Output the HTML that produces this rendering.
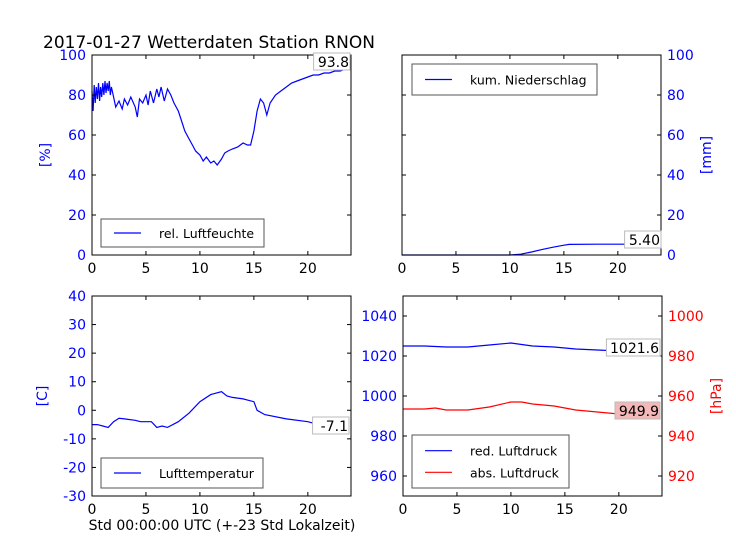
<!DOCTYPE html>
<html><head><meta charset="utf-8"><style>
body{margin:0;background:#fff}
svg{font-family:"DejaVu Sans","Liberation Sans",sans-serif}
</style></head><body>
<svg id="c" width="736" height="552" xmlns="http://www.w3.org/2000/svg">
<rect width="736" height="552" fill="#fff"/>
<text x="43" y="48" font-size="17">2017-01-27 Wetterdaten Station RNON</text>
<text x="222" y="530" font-size="14" text-anchor="middle">Std 00:00:00 UTC (+-23 Std Lokalzeit)</text>
</svg>
<script>
const humT=[0,0.1,0.2,0.3,0.4,0.5,0.6,0.7,0.8,0.9,1.0,1.1,1.2,1.3,1.4,1.5,1.6,1.7,1.8,2.0,2.2,2.5,2.8,3.0,3.3,3.6,4.0,4.2,4.4,4.7,5.0,5.2,5.4,5.7,6.0,6.2,6.4,6.7,7.0,7.3,7.6,8.0,8.3,8.6,9.0,9.3,9.6,10.0,10.3,10.6,11.0,11.3,11.6,12.0,12.3,12.6,13.0,13.5,14.0,14.4,14.7,15.0,15.3,15.6,15.9,16.2,16.5,17.0,17.5,18.0,18.5,19.0,19.5,20.0,20.5,21.0,21.5,22.0,22.5,23.0,23.5,23.8];
const humV=[82,72,85,76,84,78,86,77,84,79,86,80,87,81,86,82,87,80,84,79,74,77,73,78,75,79,74,69,78,76,80,75,82,76,83,79,84,77,83,80,76,72,67,62,58,55,52,50,47,49,46,47,45,48,51,52,53,54,56,55,55,62,72,78,76,70,76,80,82,84,86,87,88,89,90,90,91,91,92,92,93,93.8];
const rainT=[0,10,11,12,13,14,15,15.5,18,21,23.8];
const rainV=[0,0,0.4,1.5,2.8,3.9,4.9,5.3,5.4,5.4,5.4];
const tempT=[0,0.5,1,1.5,2,2.5,3,4,4.5,5,5.5,6,6.5,7,8,9,10,11,12,12.5,13,14,14.5,15,15.3,16,18,20,22,23.8];
const tempV=[-5,-5,-5.5,-6,-4,-2.8,-3,-3.5,-4,-4,-4,-6,-5.5,-6,-4,-1,3,5.5,6.5,5,4.5,4,3.5,3,0,-1.5,-3,-4,-6,-7.1];
const pT=[0,2,4,6,8,10,12,14,16,18,20,23.8];
const redV=[1025,1025,1024.5,1024.5,1025.5,1026.5,1025,1024.5,1023.5,1023,1022.5,1021.6];
const absT=[0,2,3,4,6,8,10,11,12,14,16,18,20,23.8];
const absV=[953.5,953.5,954,953,953,954.5,957,957,956,955,953,952,951,949.9];
const xTicks=[0,5,10,15,20];
const humTicks=[0,20,40,60,80,100];
const rainTicks=[0,20,40,60,80,100];
const tempTicks=[-30,-20,-10,0,10,20,30,40];
const redTicks=[960,980,1000,1020,1040];
const absTicks=[920,940,960,980,1000];

const NS="http://www.w3.org/2000/svg";
const svg=document.getElementById('c');
function el(tag,attrs,parent){const e=document.createElementNS(NS,tag);for(const k in attrs)e.setAttribute(k,attrs[k]);(parent||svg).appendChild(e);return e;}
function axis(x0,y0,w,h,ymin,ymax){return{x0,y0,w,h,sx:t=>x0+t/24*w,sy:v=>y0+h-(v-ymin)/(ymax-ymin)*h};}
function frame(a,name){
  el('rect',{x:a.x0,y:a.y0,width:a.w,height:a.h,fill:'none',stroke:'#000','stroke-width':1,});
  xTicks.forEach(t=>{const x=a.sx(t);
    el('line',{x1:x,x2:x,y1:a.y0+a.h,y2:a.y0+a.h-4,stroke:'#000'});
    el('line',{x1:x,x2:x,y1:a.y0,y2:a.y0+4,stroke:'#000'});
    const tx=el('text',{x:x,y:a.y0+a.h+18,'font-size':14,'text-anchor':'middle'});tx.textContent=t;
    
    
  });
}
function yticks(a,ticks,sy,side,color,name,both){
  ticks.forEach(v=>{const y=sy(v);
    if(side==='left'||both){el('line',{x1:a.x0,x2:a.x0+4,y1:y,y2:y,stroke:'#000'});}
    if(side==='right'||both){el('line',{x1:a.x0+a.w,x2:a.x0+a.w-4,y1:y,y2:y,stroke:'#000'});}
    const tx=el('text',{x:side==='left'?a.x0-6:a.x0+a.w+6,y:y+5,'font-size':14,'text-anchor':side==='left'?'end':'start',fill:color});tx.textContent=v;
    
    
  });
}
function line(a,T,V,sy,color,name){
  const d=T.map((t,i)=>(i?'L':'M')+a.sx(t).toFixed(1)+','+sy(V[i]).toFixed(1)).join('');
  const p=el('path',{d:d,fill:'none',stroke:color,'stroke-width':1.2});
  
  
}
function label(x,y,txt,bg,name){
  const w=txt.length*8.6+2;
  el('rect',{x:x-w,y:y-9,width:w,height:17,fill:bg,stroke:'#bbb','stroke-width':1,});
  const t=el('text',{x:x-1,y:y+5,'font-size':14,'text-anchor':'end'});t.textContent=txt;
  
  
}
function legend(x,y,w,h,items,name){
  el('rect',{x:x,y:y,width:w,height:h,fill:'#fff',stroke:'#555','stroke-width':1,});
  items.forEach((it,i)=>{const yy=y+h/(items.length+1)*(i+1)-(items.length>1?(i?-2:2):0);
    el('line',{x1:x+13,x2:x+40,y1:yy,y2:yy,stroke:it[1],'stroke-width':1.2});
    const t=el('text',{x:x+58,y:yy+5,'font-size':12.5});t.textContent=it[0];
    
    
  });
}
function ylab(x,y,txt,color,name){
  const t=el('text',{x:x,y:y,'font-size':14,fill:color,'text-anchor':'middle',transform:`rotate(-90 ${x} ${y})`});t.textContent=txt;
  
  
}
const a1=axis(92,55,259,200,0,100);
line(a1,humT,humV,a1.sy,'#0000ff','humidity-line');
frame(a1,'humidity');yticks(a1,humTicks,a1.sy,'left','#0000ff','humidity-y',true);
legend(101,219,163,28,[['rel. Luftfeuchte','#0000ff']],'humidity-legend');
label(350,62,'93.8','#fff','humidity-last-value');
ylab(50,155,'[%]','#0000ff','humidity-y-title');

const a2=axis(402,55,259,200,0,100);
line(a2,rainT,rainV,a2.sy,'#0000ff','rain-line');
frame(a2,'rain');yticks(a2,rainTicks,a2.sy,'right','#0000ff','rain-y',true);
legend(412,64,185,31,[['kum. Niederschlag','#0000ff']],'rain-legend');
label(661,240,'5.40','#fff','rain-last-value');
ylab(711,155,'[mm]','#0000ff','rain-y-title');

const a3=axis(92,296,259,200,-30,40);
line(a3,tempT,tempV,a3.sy,'#0000ff','temperature-line');
frame(a3,'temperature');yticks(a3,tempTicks,a3.sy,'left','#0000ff','temperature-y',true);
legend(101,458,162,30,[['Lufttemperatur','#0000ff']],'temperature-legend');
label(349,426,'-7.1','#fff','temperature-last-value');
ylab(47,396,'[C]','#0000ff','temperature-y-title');

const a4=axis(403,296,259,200,950,1050);
const sAbs=v=>296+200-(v-910)/100*200;
line(a4,pT,redV,a4.sy,'#0000ff','red-pressure-line');
line(a4,absT,absV,sAbs,'#ff0000','abs-pressure-line');
frame(a4,'pressure');
yticks(a4,redTicks,a4.sy,'left','#0000ff','red-pressure-y',false);
yticks(a4,absTicks,sAbs,'right','#ff0000','abs-pressure-y',false);
legend(412,435,157,53,[['red. Luftdruck','#0000ff'],['abs. Luftdruck','#ff0000']],'pressure-legend');
label(660,348,'1021.6','#fff','red-pressure-last-value');
label(660,411,'949.9','#f4b8b8','abs-pressure-last-value');
ylab(721,396,'[hPa]','#ff0000','pressure-y-title');
</script>
</body></html>
